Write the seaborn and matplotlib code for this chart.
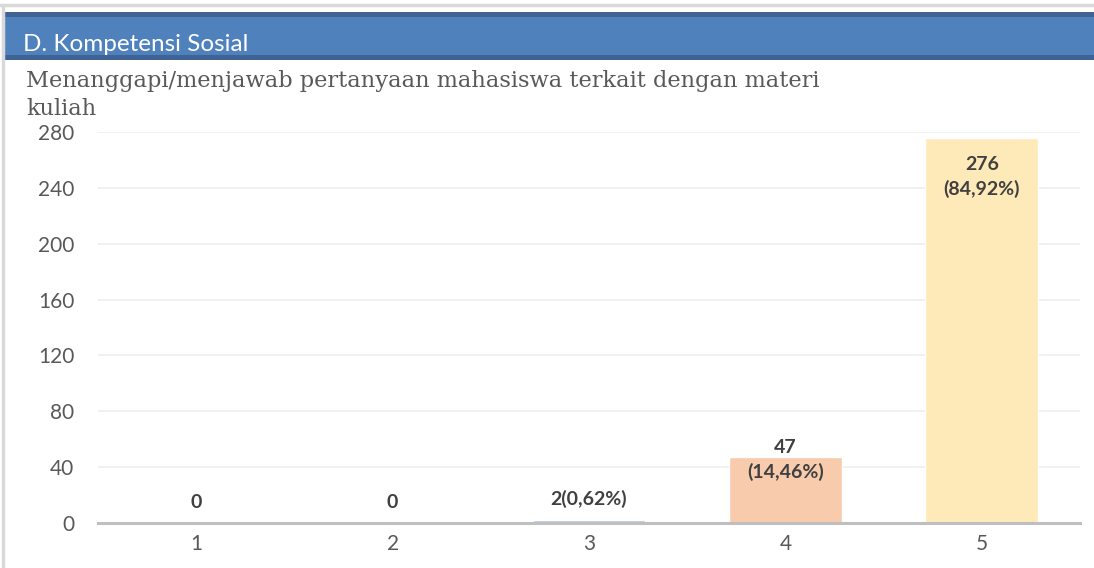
import matplotlib
matplotlib.use("Agg")
import matplotlib.pyplot as plt
from matplotlib.patches import Rectangle
from matplotlib.lines import Line2D
import seaborn as sns
import pandas as pd

# Response counts per rating score
categories = ["1", "2", "3", "4", "5"]
counts = [0, 0, 2, 47, 276]
labels = ["0", "0", "2(0,62%)", "47\n(14,46%)", "276\n(84,92%)"]
bar_colors = ["#c5d9a8", "#d9d9d9", "#b4c7e7", "#f8cbad", "#fee9b8"]
y_ticks = [0, 40, 80, 120, 160, 200, 240, 280]

section_title = "D. Kompetensi Sosial"
question_lines = ["Menanggapi/menjawab pertanyaan mahasiswa terkait dengan materi",
                  "kuliah"]

sns.set_theme(style="white")
plt.rcParams["font.family"] = ["Lato", "DejaVu Sans"]

W, H = 1094, 568
fig = plt.figure(figsize=(W / 100, H / 100), dpi=100)
fig.patch.set_facecolor("white")

# outer frame lines
fig.add_artist(Line2D([0, 1], [1 - 5 / H, 1 - 5 / H], transform=fig.transFigure,
                      color="#d9d9d9", lw=2.5))
fig.add_artist(Line2D([3 / W, 3 / W], [0, 1 - 5 / H], transform=fig.transFigure,
                      color="#d9d9d9", lw=2.5))

# section banner
fig.add_artist(Rectangle((3 / W, 1 - 60 / H), 1, 48 / H, transform=fig.transFigure,
                         facecolor="#3e6394", edgecolor="none"))
fig.add_artist(Rectangle((3 / W, 1 - 55 / H), 1, 38 / H, transform=fig.transFigure,
                         facecolor="#4f81bd", edgecolor="none"))
fig.text(23 / W, 1 - 51 / H, section_title, color="white", fontsize=17.5,
         va="baseline", ha="left")

# chart title, two lines
for k, line in enumerate(question_lines):
    fig.text(26 / W, 1 - (87 + 28 * k) / H, line, color="#595959", fontsize=16.2,
             va="baseline", ha="left", family=["DejaVu Serif"])

ax = fig.add_axes([98 / W, 1 - 523 / H, (1080 - 98) / W, (523 - 132) / H])
df = pd.DataFrame({"score": categories, "count": counts})
sns.barplot(data=df, x="score", y="count", hue="score", palette=bar_colors,
            legend=False, width=0.575, ax=ax, saturation=1)

ax.set_ylim(0, 280)
ax.set_xlim(-0.5, 4.5)
ax.set_yticks(y_ticks)
ax.set_xlabel("")
ax.set_ylabel("")
ax.yaxis.grid(True, color="#efefef", lw=1.2)
ax.set_axisbelow(True)
for s in ["top", "right", "left"]:
    ax.spines[s].set_visible(False)
ax.spines["bottom"].set_color("#bfbfbf")
ax.spines["bottom"].set_linewidth(2.2)
ax.tick_params(axis="both", length=0, labelsize=15, labelcolor="#595959")
ax.tick_params(axis="y", pad=17)
ax.tick_params(axis="x", pad=8)

# value labels: inside tall bars, straddling the top of mid bars, above short ones
label_style = dict(ha="center", fontsize=14, fontweight="bold", color="#404040",
                   linespacing=1.45, textcoords="offset points")
for i, (v, lab) in enumerate(zip(counts, labels)):
    if v > 150:
        ax.annotate(lab, xy=(i, v), xytext=(0, -13), va="top", **label_style)
    elif v > 20:
        ax.annotate(lab, xy=(i, v), xytext=(0, -2), va="center", **label_style)
    else:
        ax.annotate(lab, xy=(i, v), xytext=(0, 9), va="bottom", **label_style)

fig.savefig("out.png", dpi=100)
